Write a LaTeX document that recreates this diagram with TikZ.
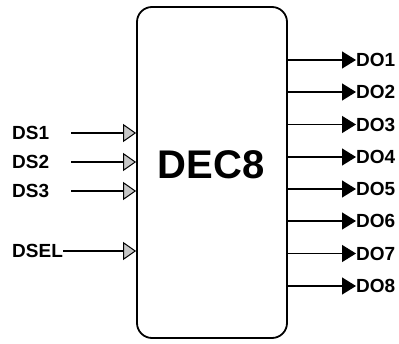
\documentclass[tikz,border=0pt]{standalone}
\usepackage{fontspec}
\setmainfont{Liberation Sans}
\usepackage{xcolor}
\usepackage{tikz}
\usetikzlibrary{arrows.meta, positioning}

\begin{document}
\begin{tikzpicture}[x=1pt, y=-1pt,
      blockbox/.style={rectangle, draw, line width=1.8pt, rounded corners=15pt, minimum width=150pt, minimum height=331pt, inner sep=0pt},
      title/.style={font=\fontsize{40}{44}\selectfont\bfseries, inner sep=0pt},
      pinlbl/.style={font=\fontsize{19}{21}\selectfont\bfseries, inner sep=0pt, anchor=west},
      inarr/.style={-{Triangle[length=13pt, width=18pt, fill=gray!45, line width=1pt]}, line width=1.1pt},
      outarr/.style={-{Triangle[length=14pt, width=17pt]}, line width=1.3pt}]
      \useasboundingbox (0,0) rectangle (399,343);
      \node[blockbox] (dec) at (212,172.5) {};
      \node[title] (name) at (211,165) {DEC8};
      % inputs
      \node[pinlbl] (ds1) at (12,133) {DS1};
      \node[pinlbl] (ds2) at (12,162) {DS2};
      \node[pinlbl] (ds3) at (12,191) {DS3};
      \node[pinlbl] (dsel) at (12,251) {DSEL};
      \coordinate (s1) at (71,133);
      \coordinate (s2) at (71,162);
      \coordinate (s3) at (71,191);
      \draw[inarr] (s1) -- (dec.west |- s1);
      \draw[inarr] (s2) -- (dec.west |- s2);
      \draw[inarr] (s3) -- (dec.west |- s3);
      \draw[inarr] (dsel.east) -- (dec.west |- dsel.east);
      % outputs
      \node[pinlbl] (do1) at (356,60) {DO1};
      \node[pinlbl] (do2) at (356,92) {DO2};
      \node[pinlbl] (do3) at (356,124.5) {DO3};
      \node[pinlbl] (do4) at (356,157) {DO4};
      \node[pinlbl] (do5) at (356,189) {DO5};
      \node[pinlbl] (do6) at (356,221) {DO6};
      \node[pinlbl] (do7) at (356,253.5) {DO7};
      \node[pinlbl] (do8) at (356,286) {DO8};
      \draw[outarr] (dec.east |- do1.west) -- (do1.west);
      \draw[outarr] (dec.east |- do2.west) -- (do2.west);
      \draw[outarr] (dec.east |- do3.west) -- (do3.west);
      \draw[outarr] (dec.east |- do4.west) -- (do4.west);
      \draw[outarr] (dec.east |- do5.west) -- (do5.west);
      \draw[outarr] (dec.east |- do6.west) -- (do6.west);
      \draw[outarr] (dec.east |- do7.west) -- (do7.west);
      \draw[outarr] (dec.east |- do8.west) -- (do8.west);
    \end{tikzpicture}
\end{document}
